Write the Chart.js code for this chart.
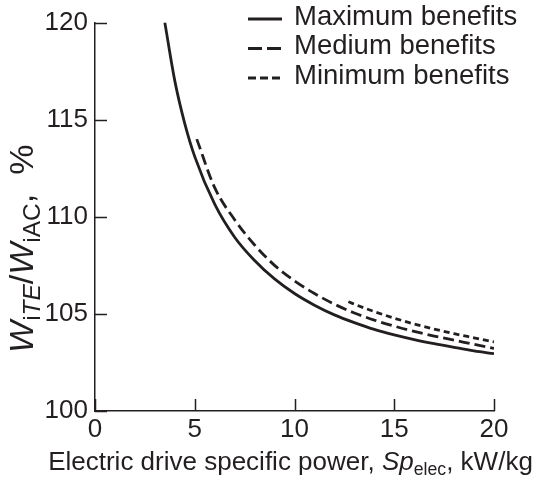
<!DOCTYPE html>
<html>
<head>
<meta charset="utf-8">
<script src="https://cdn.jsdelivr.net/npm/chart.js@4/dist/chart.umd.min.js"></script>
<style>
  html, body { margin: 0; padding: 0; background: #fff; }
  #wrap { width: 533px; height: 480px; }
</style>
</head>
<body>
<div id="wrap"><canvas id="c" width="533" height="480"></canvas></div>
<script>
// Specific power of the electric drive, kW/kg
const xTicks = [0, 5, 10, 15, 20];
// Work ratio W_iTE / W_iAC, %
const yTicks = [100, 105, 110, 115, 120];

const seriesNames = ['Maximum benefits', 'Medium benefits', 'Minimum benefits'];

const maxX = [3.5, 4, 4.5, 5, 6, 7, 8, 9, 10, 11, 12, 13, 14, 15, 16, 17, 18, 19, 20];
const maxY = [120, 117.0, 114.8, 113.1, 110.65, 108.95, 107.75, 106.8, 106.05, 105.45, 104.95, 104.55, 104.2, 103.92, 103.68, 103.47, 103.28, 103.1, 102.95];

const medX = [5.1, 6, 7, 8, 9, 10, 11, 12, 13, 14, 15, 16, 17, 18, 19, 20];
const medY = [114.0, 111.5, 109.85, 108.55, 107.5, 106.7, 106.05, 105.5, 105.05, 104.68, 104.37, 104.1, 103.86, 103.65, 103.43, 103.22];

const minX = [12.7, 13, 14, 15, 16, 17, 18, 19, 20];
const minY = [105.63, 105.5, 105.12, 104.78, 104.48, 104.22, 103.98, 103.77, 103.56];

const INK = '#231f20';
const FONT = '"Liberation Sans", Arial, Helvetica, sans-serif';

const pts = (xs, ys) => xs.map((x, i) => ({ x, y: ys[i] }));

const lineStyle = {
  borderColor: INK,
  borderWidth: 2.8,
  pointRadius: 0,
  fill: false,
  cubicInterpolationMode: 'monotone',
  borderCapStyle: 'butt'
};

// text runs with italic / subscript pieces
function richWidth(ctx, parts, size, subScale) {
  let w = 0;
  for (const p of parts) {
    ctx.font = (p.it ? 'italic ' : '') + (p.sub ? size * subScale : size) + 'px ' + FONT;
    w += ctx.measureText(p.t).width;
  }
  return w;
}
function drawRich(ctx, parts, x, y, size, subScale) {
  for (const p of parts) {
    const s = p.sub ? size * subScale : size;
    ctx.font = (p.it ? 'italic ' : '') + s + 'px ' + FONT;
    ctx.fillText(p.t, x, p.sub ? y + size * 0.2 : y);
    x += ctx.measureText(p.t).width;
  }
}

const decor = {
  id: 'decor',
  afterDraw(chart) {
    const { ctx, chartArea: ca, scales: { x: xs, y: ys } } = chart;
    ctx.save();
    ctx.strokeStyle = INK;
    ctx.fillStyle = INK;
    ctx.lineWidth = 1.5;
    ctx.setLineDash([]);

    // inward tick marks
    const tl = 12;
    ctx.beginPath();
    for (const v of xTicks) {
      const px = Math.round(xs.getPixelForValue(v)) + 0.5;
      ctx.moveTo(px, ca.bottom);
      ctx.lineTo(px, ca.bottom - tl);
    }
    for (const v of yTicks) {
      const py = Math.round(ys.getPixelForValue(v)) + 0.5;
      ctx.moveTo(ca.left, py);
      ctx.lineTo(ca.left + tl, py);
    }
    ctx.stroke();

    // x axis title
    ctx.textBaseline = 'alphabetic';
    ctx.textAlign = 'left';
    const xt = [
      { t: 'Electric drive specific power, ' },
      { t: 'Sp', it: true },
      { t: 'elec', sub: true },
      { t: ', kW/kg' }
    ];
    const xsz = 26;
    const xw = richWidth(ctx, xt, xsz, 0.68);
    drawRich(ctx, xt, (ca.left + ca.right) / 2 - 4 - xw / 2, 470, xsz, 0.68);

    // y axis title, rotated
    const yt = [
      { t: 'W', it: true },
      { t: 'i', sub: true },
      { t: 'TE', sub: true, it: true },
      { t: '/' },
      { t: 'W', it: true },
      { t: 'iAC', sub: true },
      { t: ',  %' }
    ];
    const ysz = 34;
    const yw = richWidth(ctx, yt, ysz, 0.72);
    ctx.translate(33, (ca.top + ca.bottom) / 2 + 32);
    ctx.rotate(-Math.PI / 2);
    drawRich(ctx, yt, -yw / 2, 0, ysz, 0.72);
    ctx.setTransform(1, 0, 0, 1, 0, 0);

    // legend
    const rows = [19, 48.5, 78];
    const legendDash = [[], [14, 5], [8, 4]];
    chart.data.datasets.forEach((ds, i) => {
      ctx.beginPath();
      ctx.lineWidth = ds.borderWidth;
      ctx.setLineDash(legendDash[i]);
      ctx.moveTo(248, rows[i]);
      ctx.lineTo(282, rows[i]);
      ctx.stroke();
      ctx.setLineDash([]);
      ctx.font = '27.5px ' + FONT;
      ctx.textBaseline = 'middle';
      ctx.fillText(ds.label, 294, rows[i] - 2);
    });
    ctx.restore();
  }
};

new Chart(document.getElementById('c'), {
  type: 'line',
  data: {
    datasets: [
      { ...lineStyle, label: seriesNames[0], data: pts(maxX, maxY), borderDash: [] },
      { ...lineStyle, label: seriesNames[1], data: pts(medX, medY), borderDash: [11, 5] },
      { ...lineStyle, label: seriesNames[2], data: pts(minX, minY), borderDash: [6, 4] }
    ]
  },
  options: {
    responsive: false,
    devicePixelRatio: 1,
    animation: false,
    layout: { padding: { top: 21, right: 39, left: 0, bottom: 0 } },
    plugins: { legend: { display: false }, tooltip: { enabled: false } },
    scales: {
      x: {
        type: 'linear',
        min: 0, max: 20,
        afterBuildTicks: s => { s.ticks = xTicks.map(v => ({ value: v })); },
        afterFit: s => { s.height = 69; },
        grid: { display: false, drawTicks: false },
        border: { display: true, color: INK, width: 1.5 },
        ticks: { color: INK, font: { size: 26, family: FONT }, padding: 3, maxRotation: 0 }
      },
      y: {
        type: 'linear',
        min: 100, max: 120,
        afterBuildTicks: s => { s.ticks = yTicks.map(v => ({ value: v })); },
        afterFit: s => { s.width = 95; },
        grid: { display: false, drawTicks: false },
        border: { display: true, color: INK, width: 1.5 },
        ticks: { color: INK, font: { size: 26, family: FONT }, padding: 7 }
      }
    }
  },
  plugins: [decor]
});
</script>
</body>
</html>
